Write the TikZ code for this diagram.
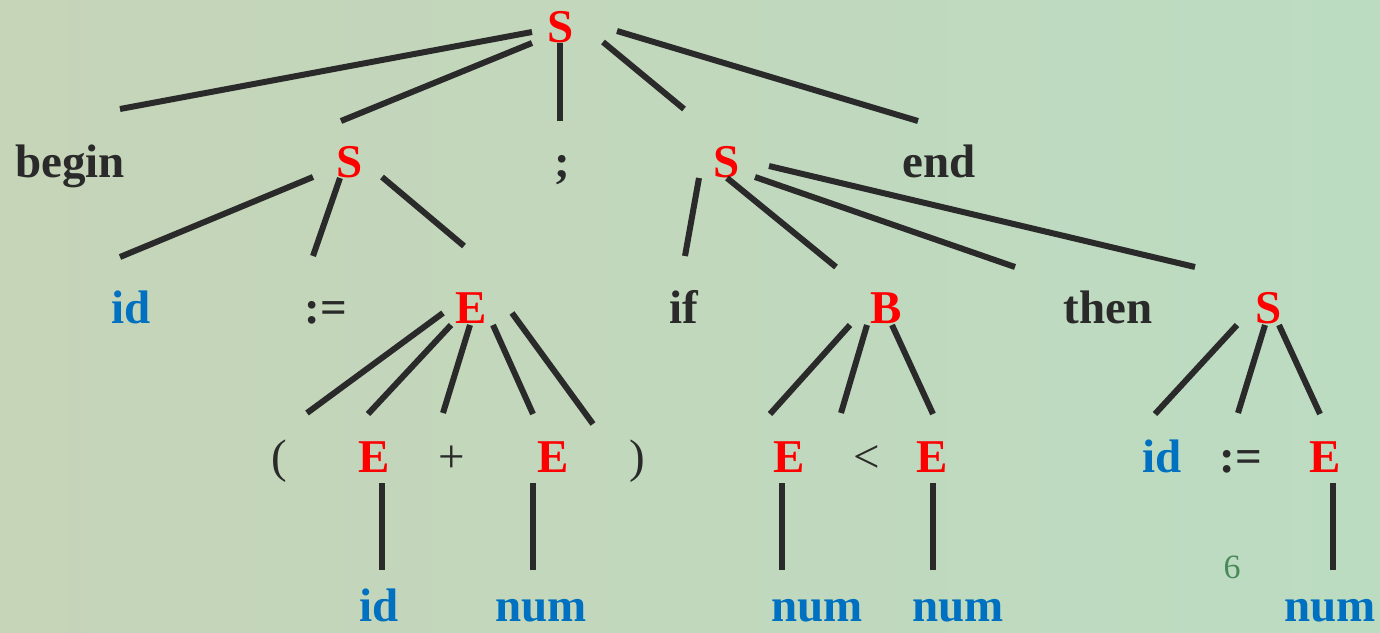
\documentclass[tikz,border=0pt]{standalone}
\usepackage{fontspec}
\setmainfont{Liberation Serif}
\usetikzlibrary{calc}
\definecolor{ntred}{RGB}{255,0,0}
\definecolor{tokblue}{RGB}{0,112,192}
\definecolor{inkgray}{RGB}{42,42,42}
\definecolor{pagegreen}{RGB}{74,138,90}
\definecolor{bgleft}{RGB}{198,212,184}
\definecolor{bgmid}{RGB}{180,212,170}
\definecolor{bgright}{RGB}{188,220,194}
\tikzset{
  lbl/.style={inner sep=0pt,anchor=base,font=\fontsize{47}{56}\selectfont\bfseries},
  nt/.style={lbl,text=ntred},
  kw/.style={lbl,text=inkgray},
  tok/.style={lbl,text=tokblue},
  op/.style={lbl,text=inkgray,font=\fontsize{47}{56}\selectfont},
  edge/.style={draw=inkgray,line width=6pt}
}
\begin{document}
\begin{tikzpicture}[x=1pt,y=-1pt]
  \useasboundingbox (0,0) rectangle (1380,632);
  \fill[left color=bgleft,middle color=bgmid,right color=bgright] (0,0) rectangle (1380,632);
  % root
  \node[nt] (s0) at (561,42) {S};
  % level 1
  \node[kw] (begin) at (70,177) {begin};
  \node[nt] (s1) at (350,177) {S};
  \node[kw] (semi) at (562,177) {;};
  \node[nt] (s2) at (727,177) {S};
  \node[kw] (endkw) at (939,177) {end};
  % level 2
  \node[tok] (id1) at (131,323) {id};
  \node[kw] (asg1) at (326,323) {:=};
  \node[nt] (e1) at (471,323) {E};
  \node[kw] (ifkw) at (684,323) {if};
  \node[nt] (b) at (886,323) {B};
  \node[kw] (thenkw) at (1108,323) {then};
  \node[nt] (s3) at (1269,323) {S};
  % level 3
  \node[op] (lpar) at (279,472) {(};
  \node[nt] (e2) at (374,472) {E};
  \node[op] (plus) at (452,472) {+};
  \node[nt] (e3) at (553,472) {E};
  \node[op] (rpar) at (637,472) {)};
  \node[nt] (e4) at (789,472) {E};
  \node[op] (lt) at (867,472) {<};
  \node[nt] (e5) at (932,472) {E};
  \node[tok] (id2) at (1162,472) {id};
  \node[kw] (asg2) at (1241,472) {:=};
  \node[nt] (e6) at (1325,472) {E};
  % leaves
  \node[tok] (id3) at (379,621) {id};
  \node[tok] (num1) at (541,621) {num};
  \node[tok] (num2) at (817,621) {num};
  \node[tok] (num3) at (958,621) {num};
  \node[tok] (num4) at (1330,621) {num};
  \node[inner sep=0pt,anchor=base,font=\fontsize{34}{40}\selectfont,text=pagegreen] (pg) at (1232,578) {6};
  % edges
  \draw[edge] ($(s0.base)+(-29,-10)$) -- ($(begin.base)+(50,-68)$);
  \draw[edge] ($(s0.base)+(-29,1)$) -- ($(s1.base)+(-9,-56)$);
  \draw[edge] ($(s0.base)+(-1,1)$) -- ($(semi.base)+(-2,-56)$);
  \draw[edge] ($(s0.base)+(42,0)$) -- ($(s2.base)+(-43,-68)$);
  \draw[edge] ($(s0.base)+(56,-11)$) -- ($(endkw.base)+(-21,-56)$);
  \draw[edge] ($(s1.base)+(-37,0)$) -- ($(id1.base)+(-11,-66)$);
  \draw[edge] ($(s1.base)+(-10,1)$) -- ($(asg1.base)+(-13,-67)$);
  \draw[edge] ($(s1.base)+(32,0)$) -- ($(e1.base)+(-7,-77)$);
  \draw[edge] ($(s2.base)+(-28,1)$) -- ($(ifkw.base)+(1,-67)$);
  \draw[edge] ($(s2.base)+(0,1)$) -- ($(b.base)+(-50,-56)$);
  \draw[edge] ($(s2.base)+(28,0)$) -- ($(thenkw.base)+(-93,-56)$);
  \draw[edge] ($(s2.base)+(42,-11)$) -- ($(s3.base)+(-74,-56)$);
  \draw[edge] ($(e1.base)+(-28,-10)$) -- ($(lpar.base)+(28,-59)$);
  \draw[edge] ($(e1.base)+(-20,2)$) -- ($(e2.base)+(-6,-58)$);
  \draw[edge] ($(e1.base)+(-1,2)$) -- ($(plus.base)+(-9,-59)$);
  \draw[edge] ($(e1.base)+(22,2)$) -- ($(e3.base)+(-20,-58)$);
  \draw[edge] ($(e1.base)+(41,-10)$) -- ($(rpar.base)+(-44,-48)$);
  \draw[edge] ($(b.base)+(-36,2)$) -- ($(e4.base)+(-19,-58)$);
  \draw[edge] ($(b.base)+(-19,2)$) -- ($(lt.base)+(-26,-59)$);
  \draw[edge] ($(b.base)+(6,2)$) -- ($(e5.base)+(1,-58)$);
  \draw[edge] ($(s3.base)+(-32,2)$) -- ($(id2.base)+(-7,-58)$);
  \draw[edge] ($(s3.base)+(-4,2)$) -- ($(asg2.base)+(-3,-59)$);
  \draw[edge] ($(s3.base)+(10,2)$) -- ($(e6.base)+(-5,-58)$);
  \draw[edge] ($(e2.base)+(8,11)$) -- ($(id3.base)+(3,-51)$);
  \draw[edge] ($(e3.base)+(-20,11)$) -- ($(num1.base)+(-8,-51)$);
  \draw[edge] ($(e4.base)+(-7,11)$) -- ($(num2.base)+(-35,-51)$);
  \draw[edge] ($(e5.base)+(1,11)$) -- ($(num3.base)+(-25,-51)$);
  \draw[edge] ($(e6.base)+(8,11)$) -- ($(num4.base)+(3,-51)$);
\end{tikzpicture}
\end{document}
